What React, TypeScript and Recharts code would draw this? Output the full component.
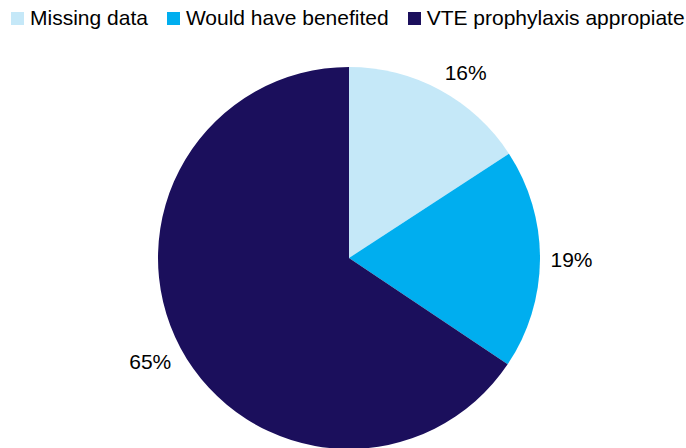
import React from "react";
import { PieChart, Pie, Cell, Legend } from "recharts";

const categories = ["Missing data", "Would have benefited", "VTE prophylaxis appropiate"];
const values = [15.8, 18.6, 65.6];
const valueLabels = ["16%", "19%", "65%"];
const colors = ["#C5E8F8", "#00AEEF", "#1B0F5C"];
const legendLabels = ["Missing data", "Would have benefited", "VTE prophylaxis appropiate"];

const data = categories.map((name, i) => ({ name, value: values[i], label: valueLabels[i] }));

const RAD = Math.PI / 180;
const clamp = (v: number) => Math.max(-1, Math.min(1, v));
const renderLabel = (props: any) => {
  const { cx, cy, midAngle, outerRadius, index } = props;
  const R = outerRadius + 11;
  const c = Math.cos(-midAngle * RAD);
  const s = Math.sin(-midAngle * RAD);
  const w = 41;
  const h = 16;
  const x = cx + R * c + (w / 2) * clamp(c * 3);
  const y = cy + R * s + (h / 2) * clamp(s * 3);
  return (
    <text
      x={x}
      y={y}
      fill="#000"
      textAnchor="middle"
      dominantBaseline="central"
      fontSize={21}
      fontFamily="'Liberation Sans', Arial, sans-serif"
    >
      {data[index].label}
    </text>
  );
};

const renderLegend = () => (
  <div
    style={{
      display: "flex",
      alignItems: "center",
      fontFamily: "'Liberation Sans', Arial, sans-serif",
      fontSize: 21,
      color: "#000",
      whiteSpace: "nowrap",
    }}
  >
    {legendLabels.map((l, i) => (
      <div key={l} style={{ display: "flex", alignItems: "center", marginRight: 19 }}>
        <span
          style={{
            display: "inline-block",
            width: 13,
            height: 13,
            background: colors[i],
            marginRight: 6,
          }}
        />
        <span>{l}</span>
      </div>
    ))}
  </div>
);

export default function App() {
  return (
    <div style={{ position: "absolute", left: 0, top: 0, width: 686, height: 448, background: "#fff" }}>
      <PieChart width={686} height={448} margin={{ top: 0, right: 0, bottom: 0, left: 0 }}>
        <Legend
          content={renderLegend}
          wrapperStyle={{ position: "absolute", left: 11, top: 6, width: 680 }}
        />
        <Pie
          data={data}
          dataKey="value"
          nameKey="name"
          cx={349}
          cy={258}
          outerRadius={191}
          innerRadius={0}
          startAngle={90}
          endAngle={-270}
          stroke="none"
          label={renderLabel}
          labelLine={false}
          isAnimationActive={false}
        >
          {data.map((d, i) => (
            <Cell key={d.name} fill={colors[i]} />
          ))}
        </Pie>
      </PieChart>
    </div>
  );
}
